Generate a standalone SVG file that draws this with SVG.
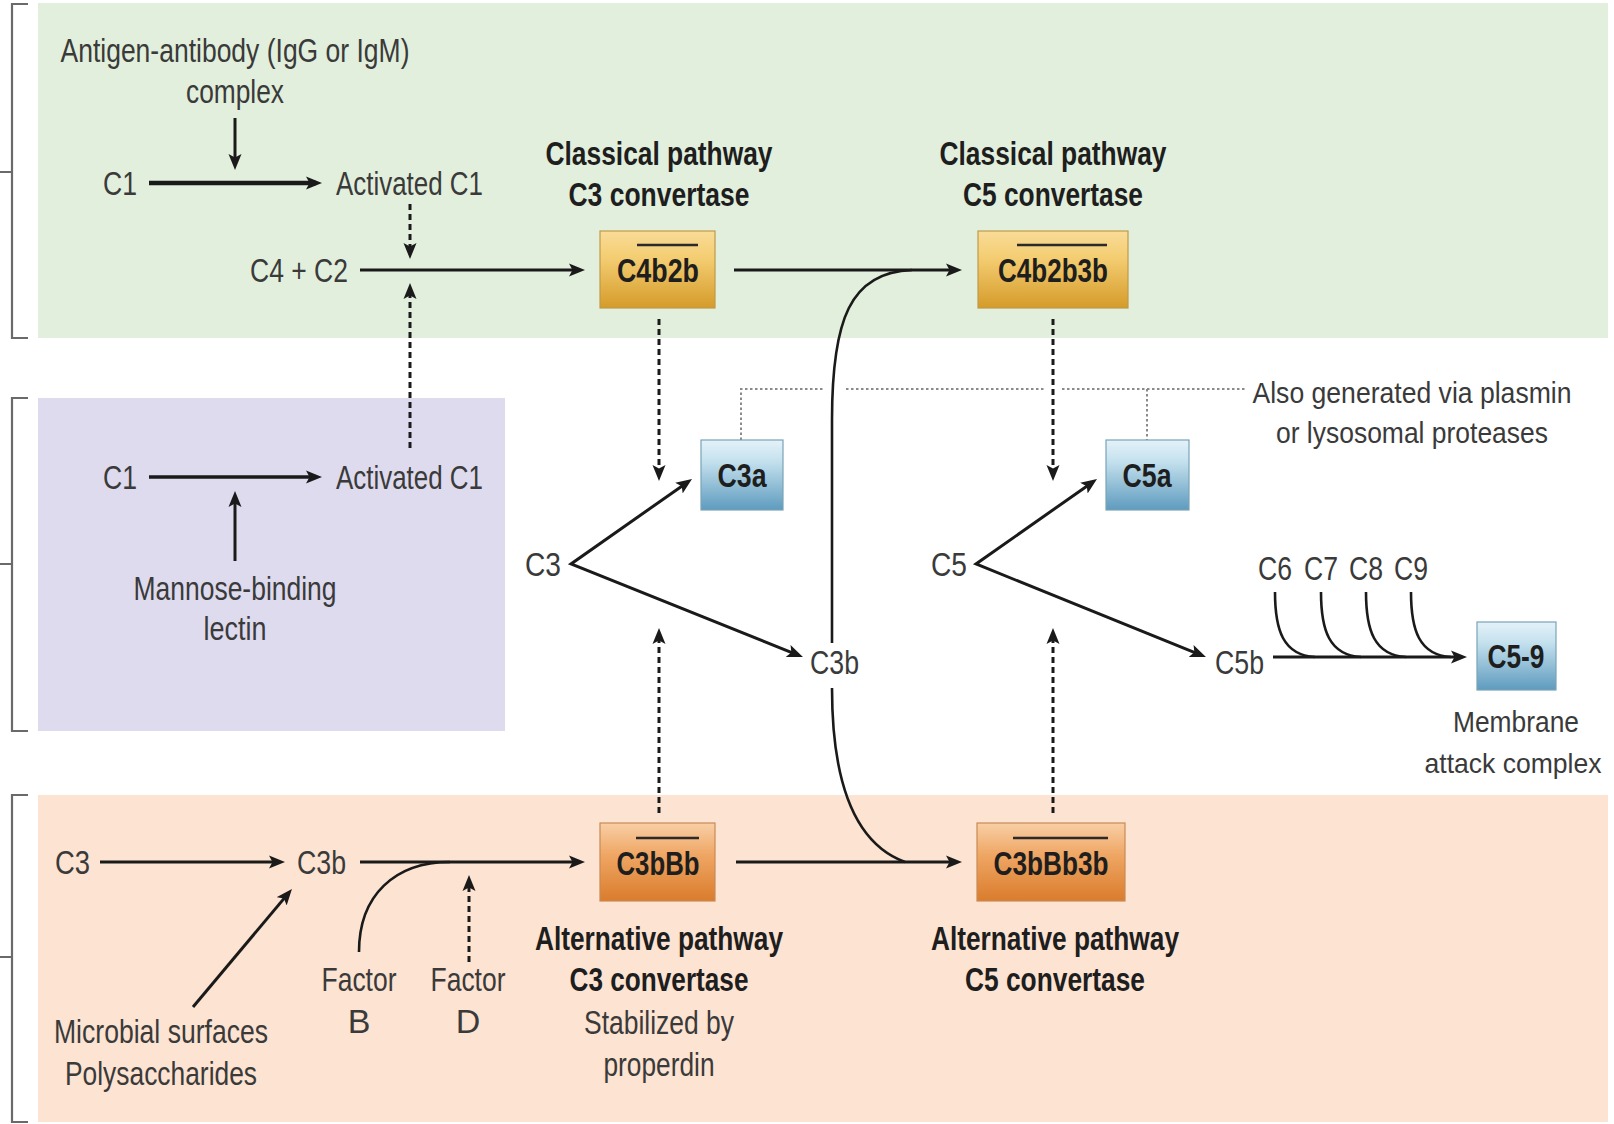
<svg xmlns="http://www.w3.org/2000/svg" width="1614" height="1124" viewBox="0 0 1614 1124">
<style>
text{font-family:"Liberation Sans Narrow","Liberation Sans",Arial,sans-serif;font-size:34px;fill:#3a3a3a}
.c{text-anchor:middle}
.b{font-weight:bold;fill:#1e1e1e}
.sm{font-size:30px}
.xs{font-size:28px}
.ln{fill:none;stroke:#1a1a1a;stroke-width:3}
.thk{stroke-width:4.5}
.mid{stroke-width:3.6}
.thin{stroke-width:2.6}
.ds{fill:none;stroke:#1a1a1a;stroke-width:3;stroke-dasharray:6 4}
.dot{fill:none;stroke:#8a8a8a;stroke-width:2;stroke-dasharray:2.5 2.5}
.ar{marker-end:url(#ah)}
.br{fill:none;stroke:#6a6a6a;stroke-width:2.2}
.ol{stroke:#2a2a2a;stroke-width:2.4}
.bx{stroke-width:1.2}
</style>
<defs>
<marker id="ah" markerUnits="userSpaceOnUse" markerWidth="18" markerHeight="14" refX="10" refY="7" orient="auto"><path d="M0,0.5 L16,7 L0,13.5 L3.5,7 z" fill="#1a1a1a"/></marker>
<marker id="ahs" markerUnits="userSpaceOnUse" markerWidth="18" markerHeight="14" refX="10" refY="7" orient="auto-start-reverse"><path d="M0,0.5 L16,7 L0,13.5 L3.5,7 z" fill="#1a1a1a"/></marker>
<linearGradient id="gold" x1="0" y1="0" x2="0" y2="1"><stop offset="0" stop-color="#f9dc98"/><stop offset="0.35" stop-color="#f4cd72"/><stop offset="1" stop-color="#d59b2a"/></linearGradient>
<linearGradient id="orange" x1="0" y1="0" x2="0" y2="1"><stop offset="0" stop-color="#f8cfa6"/><stop offset="0.4" stop-color="#efa765"/><stop offset="1" stop-color="#da7c2c"/></linearGradient>
<linearGradient id="blue" x1="0" y1="0" x2="0" y2="1"><stop offset="0" stop-color="#e4f2f9"/><stop offset="0.3" stop-color="#c5e1ee"/><stop offset="1" stop-color="#5e9bbe"/></linearGradient>
</defs>
<rect width="1614" height="1124" fill="#ffffff"/>
<g id="panels">
<rect x="38" y="3" width="1570" height="335" fill="#e2efdc"/>
<rect x="38" y="398" width="467" height="333" fill="#dedbee"/>
<rect x="38" y="795" width="1570" height="327" fill="#fde3d1"/>
<path class="br" d="M28,4 H12 V338 H28 M0,172 H12"/>
<path class="br" d="M28,398 H12 V731 H28 M0,564 H12"/>
<path class="br" d="M28,795 H12 V1122 H28 M0,957 H12"/>
</g>
<g id="connectors">
<line class="ln ar" x1="235" y1="118" x2="235" y2="164"/>
<line class="ln thk ar" x1="149" y1="183" x2="316" y2="183"/>
<line class="ds ar" x1="410" y1="204" x2="410" y2="253"/>
<line class="ln ar" x1="360" y1="270" x2="579" y2="270"/>
<line class="ds ar" x1="410" y1="448" x2="410" y2="289"/>
<line class="ln mid ar" x1="149" y1="477" x2="316" y2="477"/>
<line class="ln ar" x1="235" y1="561" x2="235" y2="497"/>
<line class="ln ar" x1="734" y1="270" x2="956" y2="270"/>
<path class="ln thin" d="M832,643 L832,420 C832,320 850,272 912,270"/>
<line class="ds ar" x1="659" y1="319" x2="659" y2="475"/>
<line class="ds ar" x1="1053" y1="319" x2="1053" y2="475"/>
<path class="dot" d="M741,440 V389 H823 M846,389 H1045 M1062,389 H1245 M1147,389 V440"/>
<path class="ln" style="marker-start:url(#ahs);marker-end:url(#ah)" stroke-linejoin="miter" d="M687.1,482.4 L571,564 L797.4,654.8"/>
<path class="ln" style="marker-start:url(#ahs);marker-end:url(#ah)" stroke-linejoin="miter" d="M1092.1,482.4 L976,564 L1200.4,654.8"/>
<line class="ds ar" x1="659" y1="813" x2="659" y2="634"/>
<line class="ds ar" x1="1053" y1="813" x2="1053" y2="634"/>
<line class="ln ar" x1="1273" y1="657" x2="1461" y2="657"/>
<path class="ln thin" d="M1275,592 C1275,630 1283,655 1315,657 M1321,592 C1321,630 1329,655 1361,657 M1366,592 C1366,630 1374,655 1406,657 M1411,592 C1411,630 1419,655 1451,657"/>
<line class="ln ar" x1="100" y1="862" x2="279" y2="862"/>
<line class="ln ar" x1="360" y1="862" x2="579" y2="862"/>
<path class="ln thin" d="M359,952 C359,895 395,862 450,862"/>
<line class="ds ar" x1="469" y1="962" x2="469" y2="881"/>
<line class="ln ar" x1="193" y1="1007" x2="288.1" y2="893.6"/>
<line class="ln ar" x1="736" y1="862" x2="956" y2="862"/>
<path class="ln thin" d="M832,688 C832,760 845,840 905,862"/>
</g>
<g id="labels">
<text class="c" x="235" y="62" textLength="349" lengthAdjust="spacingAndGlyphs">Antigen-antibody (IgG or IgM)</text>
<text class="c" x="235" y="103" textLength="98" lengthAdjust="spacingAndGlyphs">complex</text>
<text x="103" y="195" textLength="34" lengthAdjust="spacingAndGlyphs">C1</text>
<text x="336" y="195" textLength="147" lengthAdjust="spacingAndGlyphs">Activated C1</text>
<text x="250" y="282" textLength="98" lengthAdjust="spacingAndGlyphs">C4 + C2</text>
<text class="c b" x="659" y="165" textLength="227" lengthAdjust="spacingAndGlyphs">Classical pathway</text>
<text class="c b" x="659" y="206" textLength="181" lengthAdjust="spacingAndGlyphs">C3 convertase</text>
<text class="c b" x="1053" y="165" textLength="227" lengthAdjust="spacingAndGlyphs">Classical pathway</text>
<text class="c b" x="1053" y="206" textLength="180" lengthAdjust="spacingAndGlyphs">C5 convertase</text>
<text class="c sm" x="1412" y="403" textLength="319" lengthAdjust="spacingAndGlyphs">Also generated via plasmin</text>
<text class="c sm" x="1412" y="443" textLength="272" lengthAdjust="spacingAndGlyphs">or lysosomal proteases</text>
<text x="103" y="489" textLength="34" lengthAdjust="spacingAndGlyphs">C1</text>
<text x="336" y="489" textLength="147" lengthAdjust="spacingAndGlyphs">Activated C1</text>
<text class="c" x="235" y="600" textLength="203" lengthAdjust="spacingAndGlyphs">Mannose-binding</text>
<text class="c" x="235" y="640" textLength="63" lengthAdjust="spacingAndGlyphs">lectin</text>
<text x="525" y="576" textLength="36" lengthAdjust="spacingAndGlyphs">C3</text>
<text x="810" y="674" textLength="49" lengthAdjust="spacingAndGlyphs">C3b</text>
<text x="931" y="576" textLength="36" lengthAdjust="spacingAndGlyphs">C5</text>
<text x="1215" y="674" textLength="49" lengthAdjust="spacingAndGlyphs">C5b</text>
<text class="c" x="1275" y="580" textLength="34" lengthAdjust="spacingAndGlyphs">C6</text>
<text class="c" x="1321" y="580" textLength="34" lengthAdjust="spacingAndGlyphs">C7</text>
<text class="c" x="1366" y="580" textLength="34" lengthAdjust="spacingAndGlyphs">C8</text>
<text class="c" x="1411" y="580" textLength="34" lengthAdjust="spacingAndGlyphs">C9</text>
<text class="c sm" x="1516" y="732" textLength="126" lengthAdjust="spacingAndGlyphs">Membrane</text>
<text class="c xs" x="1513" y="773" textLength="177" lengthAdjust="spacingAndGlyphs">attack complex</text>
<text x="55" y="874" textLength="35" lengthAdjust="spacingAndGlyphs">C3</text>
<text x="297" y="874" textLength="49" lengthAdjust="spacingAndGlyphs">C3b</text>
<text class="c" x="359" y="991" textLength="75" lengthAdjust="spacingAndGlyphs">Factor</text>
<text class="c" x="359" y="1033">B</text>
<text class="c" x="468" y="991" textLength="75" lengthAdjust="spacingAndGlyphs">Factor</text>
<text class="c" x="468" y="1033">D</text>
<text class="c" x="161" y="1043" textLength="214" lengthAdjust="spacingAndGlyphs">Microbial surfaces</text>
<text class="c" x="161" y="1085" textLength="192" lengthAdjust="spacingAndGlyphs">Polysaccharides</text>
<text class="c b" x="659" y="950" textLength="248" lengthAdjust="spacingAndGlyphs">Alternative pathway</text>
<text class="c b" x="659" y="991" textLength="179" lengthAdjust="spacingAndGlyphs">C3 convertase</text>
<text class="c" x="659" y="1034" textLength="150" lengthAdjust="spacingAndGlyphs">Stabilized by</text>
<text class="c" x="659" y="1076" textLength="111" lengthAdjust="spacingAndGlyphs">properdin</text>
<text class="c b" x="1055" y="950" textLength="248" lengthAdjust="spacingAndGlyphs">Alternative pathway</text>
<text class="c b" x="1055" y="991" textLength="180" lengthAdjust="spacingAndGlyphs">C5 convertase</text>
</g>
<g id="node-C4b2b">
<rect class="bx" x="600" y="231" width="115" height="77" fill="url(#gold)" stroke="#bf9a4a"/>
<text class="c b" x="658" y="282" textLength="82" lengthAdjust="spacingAndGlyphs">C4b2b</text>
<line class="ol" x1="637" y1="245" x2="698" y2="245"/>
</g>
<g id="node-C4b2b3b">
<rect class="bx" x="978" y="231" width="150" height="77" fill="url(#gold)" stroke="#bf9a4a"/>
<text class="c b" x="1053" y="282" textLength="110" lengthAdjust="spacingAndGlyphs">C4b2b3b</text>
<line class="ol" x1="1017" y1="245" x2="1107" y2="245"/>
</g>
<g id="node-C3a">
<rect class="bx" x="701" y="440" width="82" height="70" fill="url(#blue)" stroke="#7aa3b8"/>
<text class="c b" x="742" y="487" textLength="49" lengthAdjust="spacingAndGlyphs">C3a</text>
</g>
<g id="node-C5a">
<rect class="bx" x="1106" y="440" width="83" height="70" fill="url(#blue)" stroke="#7aa3b8"/>
<text class="c b" x="1147" y="487" textLength="49" lengthAdjust="spacingAndGlyphs">C5a</text>
</g>
<g id="node-C5-9">
<rect class="bx" x="1477" y="622" width="79" height="68" fill="url(#blue)" stroke="#7aa3b8"/>
<text class="c b" x="1516" y="668" textLength="57" lengthAdjust="spacingAndGlyphs">C5-9</text>
</g>
<g id="node-C3bBb">
<rect class="bx" x="600" y="823" width="115" height="78" fill="url(#orange)" stroke="#c98a55"/>
<text class="c b" x="658" y="875" textLength="83" lengthAdjust="spacingAndGlyphs">C3bBb</text>
<line class="ol" x1="636" y1="838" x2="699" y2="838"/>
</g>
<g id="node-C3bBb3b">
<rect class="bx" x="977" y="823" width="148" height="78" fill="url(#orange)" stroke="#c98a55"/>
<text class="c b" x="1051" y="875" textLength="115" lengthAdjust="spacingAndGlyphs">C3bBb3b</text>
<line class="ol" x1="1013" y1="838" x2="1108" y2="838"/>
</g>
</svg>
